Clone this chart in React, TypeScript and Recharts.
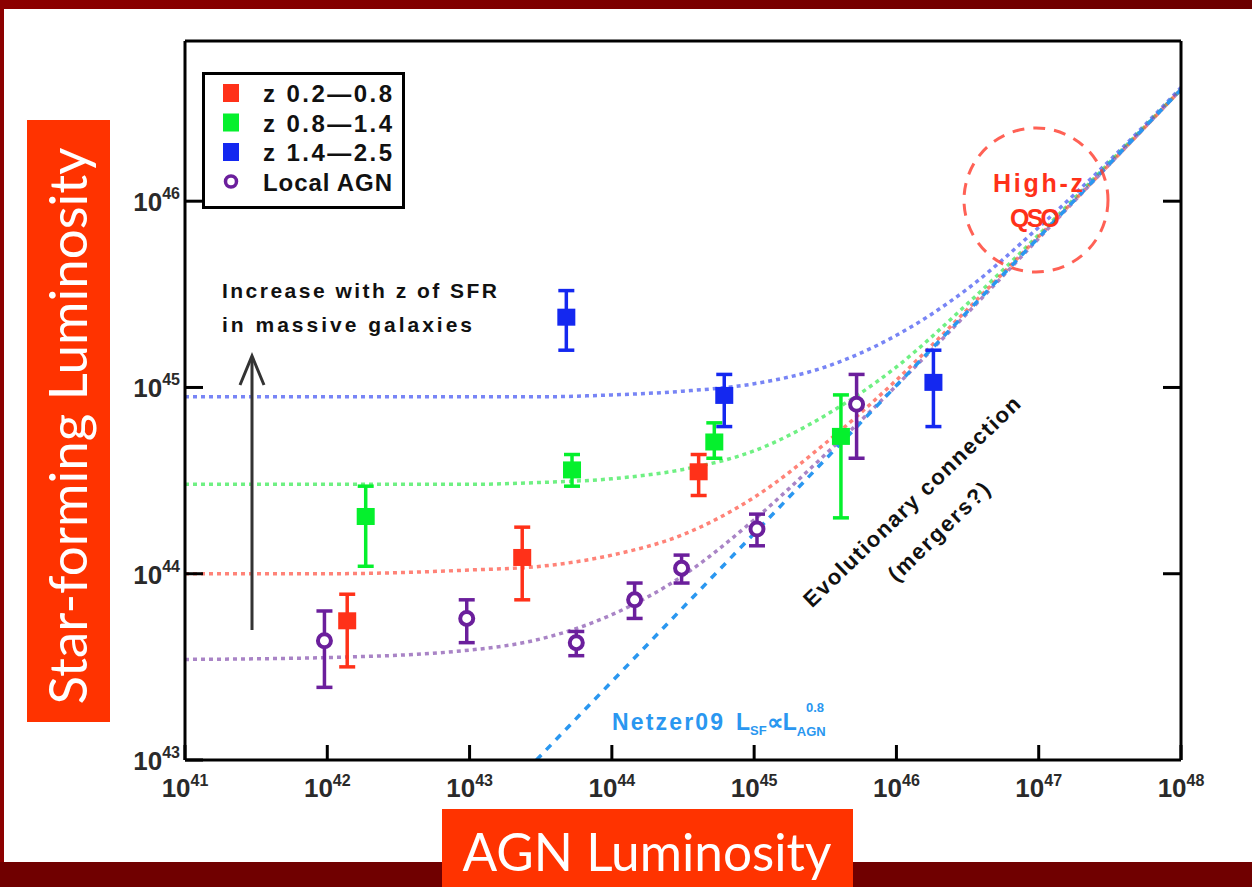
import React from 'react';
import { ComposedChart, XAxis, YAxis, Line, Scatter, ErrorBar, Legend } from 'recharts';

const RED = '#ff3119';
const GREEN = '#05f02d';
const BLUE = '#1428f0';
const PURPLE = '#6b1f9c';
const NETZER = '#2a97f0';

// every value is log10(L / erg s^-1)
const xTicks = [41, 42, 43, 44, 45, 46, 47, 48];
const yTicks = [43, 44, 45, 46];

const seriesNames = ['z 0.2\u20140.8', 'z 0.8\u20141.4', 'z 1.4\u20142.5', 'Local AGN'];

const redX = [42.14, 43.37, 44.61];
const redY = [43.75, 44.09, 44.55];
const redLo = [43.5, 43.86, 44.42];
const redHi = [43.89, 44.25, 44.64];

const greenX = [42.27, 43.72, 44.72, 45.61];
const greenY = [44.31, 44.56, 44.71, 44.74];
const greenLo = [44.04, 44.47, 44.62, 44.3];
const greenHi = [44.47, 44.64, 44.81, 44.96];

const blueX = [43.68, 44.79, 46.26];
const blueY = [45.38, 44.96, 45.03];
const blueLo = [45.2, 44.79, 44.79];
const blueHi = [45.52, 45.07, 45.2];

const localX = [41.98, 42.98, 43.75, 44.16, 44.49, 45.02, 45.72];
const localY = [43.64, 43.76, 43.63, 43.86, 44.03, 44.24, 44.91];
const localLo = [43.39, 43.63, 43.56, 43.76, 43.95, 44.15, 44.62];
const localHi = [43.8, 43.86, 43.69, 43.95, 44.1, 44.32, 45.07];

// dotted model curves
const curveX = [41, 42, 43, 43.5, 44, 44.5, 45, 45.5, 46, 46.5, 47, 47.5, 48];
const curveBlue = [44.95, 44.95, 44.95, 44.95, 44.96, 44.98, 45.02, 45.11, 45.28, 45.53, 45.86, 46.22, 46.61];
const curveGreen = [44.48, 44.48, 44.48, 44.49, 44.51, 44.56, 44.66, 44.85, 45.11, 45.45, 45.82, 46.21, 46.6];
const curveRed = [44.0, 44.0, 44.02, 44.04, 44.1, 44.21, 44.41, 44.7, 45.04, 45.42, 45.81, 46.2, 46.6];
const curvePurple = [43.54, 43.55, 43.59, 43.65, 43.78, 43.99, 44.29, 44.64, 45.01, 45.4, 45.8, 46.2, 46.6];

// Netzer09 relation, dashed
const netzerX = [43.47, 48];
const netzerY = [43.0, 46.6];

const points = (xs: number[], ys: number[], lo: number[], hi: number[]) =>
  xs.map((x, i) => ({ x, y: ys[i], err: [ys[i] - lo[i], hi[i] - ys[i]] }));
const curve = (xs: number[], ys: number[]) => xs.map((x, i) => ({ x, y: ys[i] }));

const font = '"Liberation Sans", Arial, sans-serif';

const BottomTick = (p: any) => (
  <g>
    <line x1={p.x} y1={p.y} x2={p.x} y2={p.y - 15} stroke="#000" strokeWidth={3} />
    <text x={p.x} y={p.y + 37} textAnchor="middle" fontFamily={font} fontWeight={700} fontSize={26} fill="#2a2a2a">
      {'10'}
      <tspan dy={-11} fontSize={16}>{p.payload.value}</tspan>
    </text>
  </g>
);

const LeftTick = (p: any) => (
  <g>
    <line x1={p.x} y1={p.y} x2={p.x + 18} y2={p.y} stroke="#000" strokeWidth={3} />
    <text x={p.x - 5} y={p.y + 10} textAnchor="end" fontFamily={font} fontWeight={700} fontSize={26} fill="#2a2a2a">
      {'10'}
      <tspan dy={-12} fontSize={16}>{p.payload.value}</tspan>
    </text>
  </g>
);

const TopTick = (p: any) => <line x1={p.x} y1={p.y} x2={p.x} y2={p.y + 16} stroke="#000" strokeWidth={3} />;
const RightTick = (p: any) => <line x1={p.x} y1={p.y} x2={p.x - 18} y2={p.y} stroke="#000" strokeWidth={3} />;

const square = (color: string) => (p: any) =>
  <rect x={p.cx - 9} y={p.cy - 8} width={18} height={17} fill={color} />;
const ring = (p: any) => <circle cx={p.cx} cy={p.cy} r={6.5} fill="#fff" stroke={PURPLE} strokeWidth={4} />;

const legendColors = [RED, GREEN, BLUE, PURPLE];

const LegendBox = () => (
  <svg width={206} height={140} style={{ display: 'block' }}>
    <rect x={1.5} y={1.5} width={200} height={134} fill="#fff" stroke="#000" strokeWidth={3} />
    {seriesNames.map((name, i) => {
      const cy = 21 + i * 29.5;
      return (
        <g key={name}>
          {i < 3 ? (
            <rect x={21} y={cy - 9} width={16} height={18} fill={legendColors[i]} />
          ) : (
            <circle cx={29} cy={cy} r={5.5} fill="#fff" stroke={PURPLE} strokeWidth={3.5} />
          )}
          <text x={61} y={cy + 9} fontFamily={font} fontWeight={700} fontSize={24} fill="#111"
            textLength={129} lengthAdjust="spacing">{name}</text>
        </g>
      );
    })}
  </svg>
);

const dotted = { strokeDasharray: '4 4', strokeWidth: 3.5, strokeOpacity: 0.65 };
const frame = { stroke: '#000', strokeWidth: 3 };

export default function App() {
  return (
    <div style={{ position: 'absolute', left: 0, top: 0, width: 1252, height: 887, background: '#fff', overflow: 'hidden' }}>
      <ComposedChart width={1252} height={887} margin={{ top: 40, right: 70, bottom: 126, left: 184 }}>
        <XAxis type="number" dataKey="x" domain={[41, 48]} ticks={xTicks} interval={0} height={1}
          tickSize={0} tickMargin={0} tickLine={false} tick={BottomTick} allowDataOverflow axisLine={frame} />
        <XAxis xAxisId="top" orientation="top" type="number" domain={[41, 48]} ticks={[42, 43, 44, 45, 46, 47]}
          interval={0} height={1} tickSize={0} tickMargin={0} tickLine={false} tick={TopTick} allowDataOverflow axisLine={frame} />
        <YAxis type="number" dataKey="y" domain={[43, 46.86]} ticks={yTicks} interval={0} width={1}
          tickSize={0} tickMargin={0} tickLine={false} tick={LeftTick} allowDataOverflow axisLine={frame} />
        <YAxis yAxisId="right" orientation="right" type="number" domain={[43, 46.86]} ticks={[44, 45, 46]}
          interval={0} width={1} tickSize={0} tickMargin={0} tickLine={false} tick={RightTick} allowDataOverflow axisLine={frame} />
        <Legend layout="horizontal" verticalAlign="middle" align="center" content={LegendBox}
          wrapperStyle={{ left: 202, top: 72, width: 206, height: 140 }} />

        <Line data={curve(curveX, curveBlue)} dataKey="y" type="monotone" stroke="#3044f0" {...dotted} dot={false} isAnimationActive={false} />
        <Line data={curve(curveX, curveGreen)} dataKey="y" type="monotone" stroke="#22e840" {...dotted} dot={false} isAnimationActive={false} />
        <Line data={curve(curveX, curveRed)} dataKey="y" type="monotone" stroke="#ff4030" {...dotted} dot={false} isAnimationActive={false} />
        <Line data={curve(curveX, curvePurple)} dataKey="y" type="monotone" stroke="#7b42a8" {...dotted} dot={false} isAnimationActive={false} />
        <Line data={curve(netzerX, netzerY)} dataKey="y" type="linear" stroke={NETZER} strokeDasharray="7 7" strokeWidth={3.5} dot={false} isAnimationActive={false} />

        <Scatter name={seriesNames[0]} data={points(redX, redY, redLo, redHi)} dataKey="y" shape={square(RED)} isAnimationActive={false}>
          <ErrorBar dataKey="err" direction="y" width={8} stroke={RED} strokeWidth={3.5} />
        </Scatter>
        <Scatter name={seriesNames[1]} data={points(greenX, greenY, greenLo, greenHi)} dataKey="y" shape={square(GREEN)} isAnimationActive={false}>
          <ErrorBar dataKey="err" direction="y" width={8} stroke={GREEN} strokeWidth={3.5} />
        </Scatter>
        <Scatter name={seriesNames[2]} data={points(blueX, blueY, blueLo, blueHi)} dataKey="y" shape={square(BLUE)} isAnimationActive={false}>
          <ErrorBar dataKey="err" direction="y" width={8} stroke={BLUE} strokeWidth={3.5} />
        </Scatter>
        <Scatter name={seriesNames[3]} data={points(localX, localY, localLo, localHi)} dataKey="y" shape={ring} isAnimationActive={false}>
          <ErrorBar dataKey="err" direction="y" width={8} stroke={PURPLE} strokeWidth={3.5} />
        </Scatter>
      </ComposedChart>

      <svg width={1252} height={887} style={{ position: 'absolute', left: 0, top: 0, pointerEvents: 'none' }}>
        <defs>
          <linearGradient id="band" x1="0" x2="1" y1="0" y2="0">
            <stop offset="0" stopColor="#8c0000" />
            <stop offset="1" stopColor="#6c0000" />
          </linearGradient>
        </defs>
        <rect x={0} y={0} width={1252} height={9} fill="url(#band)" />
        <rect x={0} y={0} width={4} height={887} fill="#8c0000" />
        <rect x={0} y={862} width={1252} height={25} fill="#700000" />

        {/* annotations */}
        <text x={222} y={298} fontFamily={font} fontWeight={700} fontSize={21} fill="#111" textLength={275} lengthAdjust="spacing">Increase with z of SFR</text>
        <text x={222} y={332} fontFamily={font} fontWeight={700} fontSize={21} fill="#111" textLength={250} lengthAdjust="spacing">in massive galaxies</text>
        <line x1={252} y1={630} x2={252} y2={357} stroke="#333" strokeWidth={3} />
        <polyline points="240,385 252,356 264,385" fill="none" stroke="#333" strokeWidth={3} />

        <circle cx={1036} cy={200} r={72} fill="none" stroke="#ff3a2a" strokeOpacity={0.8} strokeWidth={3} strokeDasharray="12 9" />
        <text x={1038} y={192} textAnchor="middle" fontFamily={font} fontWeight={700} fontSize={25} fill="#ff3119" textLength={90} lengthAdjust="spacing">High-z</text>
        <text x={1035} y={227} textAnchor="middle" fontFamily={font} fontWeight={700} fontSize={25} fill="#ff3119" textLength={50} lengthAdjust="spacing">QSO</text>

        <text x={0} y={0} transform="translate(917,507) rotate(-44)" textAnchor="middle" fontFamily={font} fontWeight={700} fontSize={22} fill="#111" textLength={292} lengthAdjust="spacing">Evolutionary connection</text>
        <text x={0} y={0} transform="translate(944,537) rotate(-44)" textAnchor="middle" fontFamily={font} fontWeight={700} fontSize={22} fill="#111" textLength={132} lengthAdjust="spacing">(mergers?)</text>

        <g fontFamily={font} fontWeight={700} fill={NETZER}>
          <text x={612} y={730} fontSize={23} textLength={111} lengthAdjust="spacing">Netzer09</text>
          <text x={736} y={730} fontSize={23}>L<tspan fontSize={13} dy={5}>SF</tspan><tspan dy={-5}>{'\u221D'}L</tspan><tspan fontSize={13} dy={6}>AGN</tspan></text>
          <text x={806} y={712} fontSize={13}>0.8</text>
        </g>

        {/* axis titles */}
        <rect x={27} y={120} width={83} height={602} fill="#ff3300" />
        <text x={0} y={0} transform="translate(87,426) rotate(-90)" textAnchor="middle" fontFamily="Lato, sans-serif" fontSize={52} fill="#fff" textLength={557} lengthAdjust="spacingAndGlyphs">Star-forming Luminosity</text>
        <rect x={442} y={809} width={411} height={78} fill="#ff3300" />
        <text x={647} y={871} textAnchor="middle" fontFamily="Lato, sans-serif" fontSize={52} fill="#fff" textLength={369} lengthAdjust="spacingAndGlyphs">AGN Luminosity</text>
      </svg>
    </div>
  );
}
